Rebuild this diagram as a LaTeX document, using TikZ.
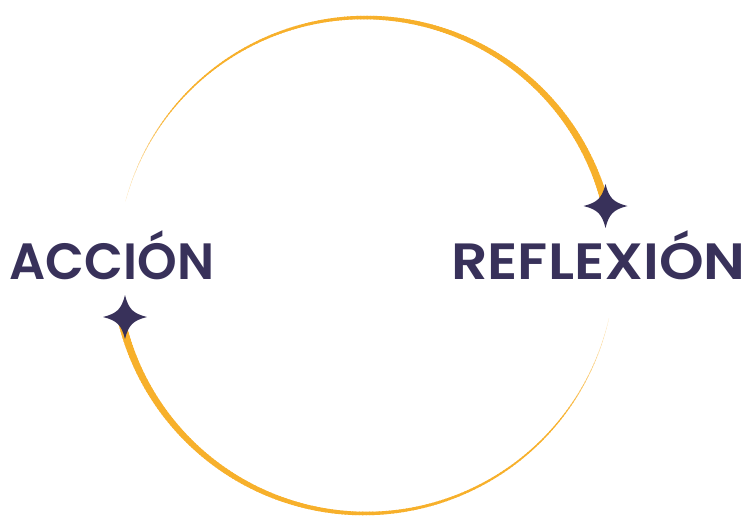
\documentclass[tikz,border=0pt]{standalone}
\usepackage{fontspec}
\setmainfont{Poppins}[BoldFont=* SemiBold]
\definecolor{navy}{HTML}{38315A}
\definecolor{gold}{HTML}{F7B02B}
\tikzset{
  lbl/.style={font=\fontsize{51}{51}\selectfont\bfseries,text=navy,inner sep=0pt,anchor=base west,transform shape},
  sparkle/.pic={\fill[navy] (-22,0) .. controls (-8,-3.5) and (-3.5,-8) .. (0,-22)
     .. controls (3.5,-8) and (8,-3.5) .. (22,0)
     .. controls (8,3.5) and (3.5,8) .. (0,22)
     .. controls (-3.5,8) and (-8,3.5) .. (-22,0) -- cycle;}
}
\begin{document}
\begin{tikzpicture}[x=1pt,y=-1pt]
\useasboundingbox (0,0) rectangle (745,515);
\foreach \i in {0,...,199}{
  \pgfmathsetmacro{\t}{\i/199}
  \pgfmathsetmacro{\w}{0.2+7.4*pow(\t,1.15)}
  \pgfmathsetmacro{\op}{min(100,25+\t*450)}
  % upper arc
  \pgfmathsetmacro{\a}{165-\t*150}
  \pgfmathsetmacro{\b}{\a-1.05}
  \draw[gold!\op!white,line width=\w pt] ({365+248*cos(\a)},{265.5-248*sin(\a)}) arc[start angle=-\a,end angle=-\b,radius=248];
  % lower arc
  \pgfmathsetmacro{\c}{347.4-\t*154.8}
  \pgfmathsetmacro{\d}{\c-1.05}
  \draw[gold!\op!white,line width=\w pt] ({365+250*cos(\c)},{263.5-250*sin(\c)}) arc[start angle=-\c,end angle=-\d,radius=250];
}
\pic at (605.5,206) {sparkle};
\pic at (125,317) {sparkle};
\node[lbl,xscale=0.99] (acc) at (9.5,279) {ACCIÓN};
\node[lbl,xscale=1.115] (ref) at (451,279) {REFLEXIÓN};
\end{tikzpicture}
\end{document}
